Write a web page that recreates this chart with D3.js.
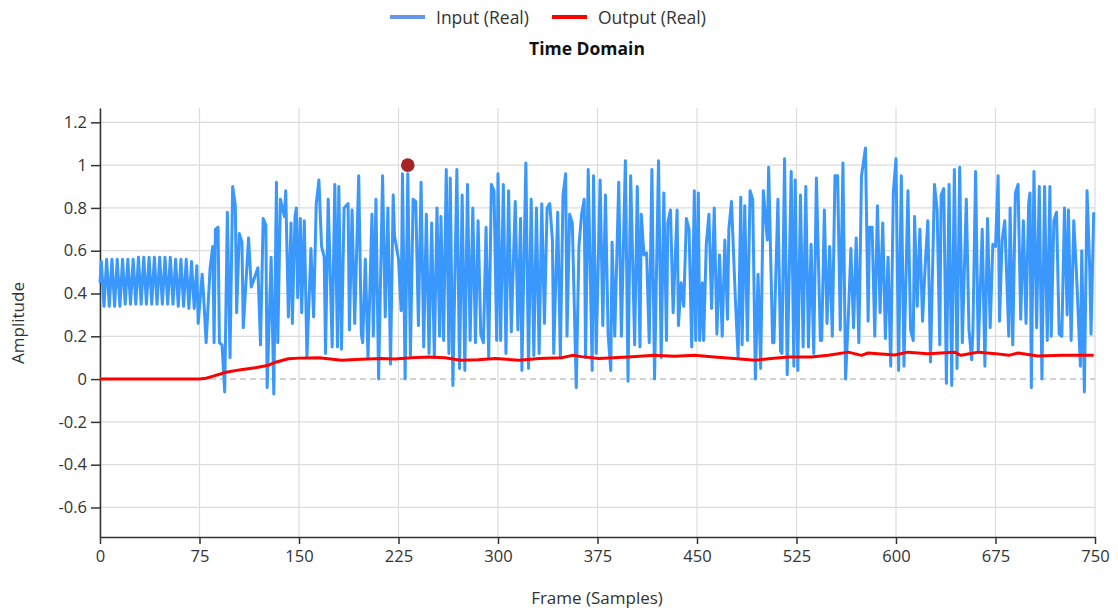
<!DOCTYPE html>
<html>
<head>
<meta charset="utf-8">
<script src="https://cdn.jsdelivr.net/npm/d3@7/dist/d3.min.js"></script>
<style>
body { margin: 0; background: #fff; }
text { font-family: "Open Sans", sans-serif; }
</style>
</head>
<body>
<svg id="chart" width="1118" height="610"></svg>
<script>
var xTicks = [0, 75, 150, 225, 300, 375, 450, 525, 600, 675, 750];
var yTicks = [-0.6, -0.4, -0.2, 0, 0.2, 0.4, 0.6, 0.8, 1, 1.2];
var seriesNames = ["Input (Real)", "Output (Real)"];

// [frame, amplitude] vertices
var inputSeries = [
  [0,0.45],[1,0.55],[3,0.34],[5,0.56],[7,0.34],[9,0.56],[11,0.34],[13,0.56],[15,0.34],[17,0.56],[19,0.35],[21,0.56],
  [23,0.35],[25,0.56],[27,0.35],[29,0.57],[31,0.35],[33,0.57],[35,0.35],[37,0.57],[39,0.35],[41,0.57],[43,0.35],[45,0.57],
  [47,0.35],[49,0.57],[51,0.35],[53,0.57],[55,0.35],[57,0.56],[59,0.34],[61,0.56],[63,0.34],[65,0.56],[67,0.33],[69,0.55],[71,0.33],
  [73,0.53],[74,0.26],[77,0.49],[78,0.40],[80,0.17],[83,0.52],[85,0.62],[86,0.17],[87,0.70],[89,0.71],[90,0.17],[92,0.16],
  [94,-0.06],[96,0.78],[98,0.10],[100,0.90],[102,0.81],[103,0.31],[105,0.68],[107,0.64],[108,0.24],[112,0.66],[114,0.43],
  [119,0.52],[121,0.16],[123,0.75],[125,0.72],[126,-0.04],[129,0.57],[131,-0.07],[133,0.92],[134,0.17],[136,0.84],[139,0.76],
  [140,0.88],[142,0.29],[144,0.73],[145,0.26],[147,0.76],
  [148,0.80],[149,0.38],[151,0.75],[152,0.31],[154,0.74],[156,0.10],[159,0.61],[161,0.29],[163,0.82],[165,0.93],[167,0.62],
  [169,0.57],[170,0.12],[172,0.84],[175,0.15],[177,0.91],[179,0.15],[180,0.90],[182,0.14],[184,0.80],[187,0.82],[188,0.23],
  [190,0.79],[192,0.26],[195,0.95],[197,0.21],[198,0.17],[200,0.56],[202,0.10],[205,0.77],[206,0.20],[208,0.84],[210,0.00],
  [213,0.95],[215,0.29],[217,0.80],[219,0.07],[221,0.86],[222,0.67],[225,0.56],[227,0.32],[228,0.96],[230,0.00],[232,0.96],
  [234,0.11],[236,0.84],[238,0.83],[240,0.25],[242,0.92],[244,0.15],[246,0.77],[248,0.12],[250,0.73],[252,0.10],[254,0.80],
  [256,0.20],[257,0.76],[259,0.18],[261,0.98],[263,0.12],[264,0.94],[266,-0.03],[269,0.98],[271,0.05],[273,0.86],[275,0.04],
  [277,0.91],[279,0.18],[281,0.80],[283,0.17],[285,0.74],[287,0.21],[289,0.17],[291,0.71],[293,0.10],[295,0.91],[297,0.88],[299,0.18],
  [300,0.96],[302,0.18],[304,0.91],[306,0.12],[308,0.88],[310,0.22],[313,0.83],[315,0.23],[317,0.75],[318,0.04],[321,1.01],
  [323,0.05],[325,0.84],[327,0.11],[329,0.80],[331,0.12],[333,0.82],[335,0.26],[337,0.80],[339,0.82],[341,0.65],[342,0.12],
  [345,0.78],[347,0.10],[349,0.86],[351,0.96],[352,0.20],[354,0.77],[356,0.73],[359,-0.04],[361,0.62],[363,0.77],[365,0.84],
  [366,0.10],[368,0.98],[371,0.04],[372,0.95],[374,0.12],[377,0.93],[379,0.25],[381,0.86],[383,0.21],[385,0.04],[386,0.64],
  [388,0.20],[391,0.92],[393,0.20],[396,1.02],[398,-0.01],[400,0.95],[403,0.16],[405,0.90],[407,0.15],[408,0.77],[410,0.58],
  [412,0.59],[414,0.17],[416,0.98],[418,0.00],[421,1.02],[423,0.10],[425,0.87],[427,0.18],[428,0.73],[430,0.79],[432,0.31],
  [435,0.79],[436,0.25],[438,0.45],[440,0.34],[442,0.75],[444,0.70],[446,0.15],[448,0.88],[449,0.18],
  [451,0.87],[452,0.18],[454,0.45],[455,0.18],[457,0.63],[459,0.77],[461,0.33],[463,0.80],[465,0.21],[467,0.58],[469,0.20],
  [471,0.65],[473,0.28],[474,0.70],[476,0.83],[479,0.36],[481,0.10],[483,0.85],[484,0.16],[486,0.81],[488,0.18],[490,0.88],
  [492,0.84],[494,0.00],[496,0.49],[498,0.05],[500,0.88],[503,0.65],[504,0.99],[507,0.17],[508,0.17],[511,0.84],[513,0.13],
  [514,0.12],[516,1.03],[518,0.02],[521,0.97],[523,0.06],[524,0.93],[526,0.04],[528,0.86],[530,0.15],[532,0.90],[534,0.15],
  [536,0.63],[538,0.12],[540,0.94],[543,0.18],[544,0.18],[546,0.79],[548,0.26],[550,0.62],[552,0.20],[554,0.95],[556,0.95],
  [558,0.23],[560,1.01],[562,0.00],[564,0.28],[566,0.61],[568,0.24],[570,0.66],[572,0.17],[574,0.95],[577,1.08],[579,0.27],
  [580,0.71],[582,0.71],[584,0.20],[586,0.81],[588,0.31],[590,0.73],[592,0.19],[594,0.57],[596,0.06],[598,0.87],[600,1.03],
  [602,0.04],[604,0.95],[606,0.06],[609,0.88],[611,0.23],[613,0.18],[614,0.76],[616,0.34],[618,0.70],[620,0.27],[622,0.53],
  [624,0.74],[626,0.08],[629,0.91],[631,0.79],[633,0.16],[634,0.86],[636,0.89],[638,-0.02],[640,0.91],[642,-0.03],[644,0.98],
  [646,0.05],[648,0.99],[650,0.17],[653,0.84],[655,0.23],[657,0.09],[658,0.23],[660,0.97],[662,0.13],[665,0.70],[667,0.06],
  [669,0.75],[671,0.24],[673,0.63],[675,0.62],[677,0.95],[678,0.27],[680,0.65],[682,0.74],[685,0.20],[686,0.80],[688,0.16],
  [690,0.87],[692,0.91],[694,0.28],[696,0.74],[698,0.26],[700,0.82],[701,0.87],[702,-0.04],[704,0.97],[706,0.24],[708,0.90],
  [710,0.00],[712,0.90],[714,0.18],[716,0.90],[717,0.20],[719,0.74],[721,0.78],[723,0.21],[725,0.20],[727,0.80],[729,0.30],
  [730,0.79],[732,0.18],[734,0.74],[736,0.50],[739,0.06],[740,0.60],[742,-0.06],[744,0.88],[746,0.52],[747,0.21],[748,0.49],[749,0.78]
];

var outputSeries = [
  [0,0],[75,0],[80,0.004],[86,0.015],[95,0.032],[105,0.043],[117,0.053],[127,0.065],[133,0.08],[142,0.095],[150,0.098],
  [165,0.10],[182,0.088],[197,0.093],[212,0.096],[222,0.094],[235,0.10],[248,0.103],[260,0.10],[272,0.088],[285,0.09],
  [298,0.096],[316,0.088],[331,0.096],[348,0.10],[356,0.111],[363,0.105],[376,0.096],[398,0.103],[418,0.111],[433,0.107],
  [448,0.111],[463,0.103],[478,0.096],[494,0.088],[506,0.096],[519,0.103],[536,0.103],[549,0.111],[564,0.126],[574,0.111],
  [579,0.122],[589,0.117],[599,0.113],[609,0.126],[624,0.119],[644,0.126],[649,0.111],[662,0.126],[675,0.119],[685,0.111],
  [692,0.122],[707,0.108],[725,0.111],[749,0.111]
];

var markerFrame = 232;
var markerValue = 1.0;

var svg = d3.select("#chart");
var x = d3.scaleLinear().domain([0, 750]).range([100, 1095]);
var y = d3.scaleLinear().domain([-0.738, 1.267]).range([537, 108]);

// grid
svg.append("g").selectAll("line").data(xTicks).enter().append("line")
  .attr("x1", function(d) { return x(d); })
  .attr("x2", function(d) { return x(d); })
  .attr("y1", y.range()[0]).attr("y2", y.range()[1])
  .attr("stroke", "#dcdcdc").attr("stroke-width", 1.2);

svg.append("g").selectAll("line").data(yTicks.filter(function(d) { return d !== 0; })).enter().append("line")
  .attr("x1", x.range()[0]).attr("x2", x.range()[1])
  .attr("y1", function(d) { return y(d); })
  .attr("y2", function(d) { return y(d); })
  .attr("stroke", "#dcdcdc").attr("stroke-width", 1.2);

svg.append("line")
  .attr("x1", x.range()[0]).attr("x2", x.range()[1])
  .attr("y1", y(0)).attr("y2", y(0))
  .attr("stroke", "#c4c4c4").attr("stroke-width", 1.5)
  .attr("stroke-dasharray", "6,4");

// axes
var yAxis = svg.append("g")
  .attr("transform", "translate(" + x.range()[0] + ",0)")
  .call(d3.axisLeft(y).tickValues(yTicks).tickSize(9).tickSizeOuter(0).tickPadding(4)
    .tickFormat(function(d) { return String(d); }));

var xAxis = svg.append("g")
  .attr("transform", "translate(0," + y.range()[0] + ")")
  .call(d3.axisBottom(x).tickValues(xTicks).tickSize(7).tickSizeOuter(0).tickPadding(6));

[yAxis, xAxis].forEach(function(a) {
  a.select(".domain").attr("stroke", "#333").attr("stroke-width", 1.5);
  a.selectAll(".tick line").attr("stroke", "#333").attr("stroke-width", 1.5);
  a.selectAll(".tick text").attr("fill", "#333").style("font-size", "16.5px").style("font-family", "Open Sans, sans-serif");
});

// lines
var line = d3.line()
  .x(function(d) { return x(d[0]); })
  .y(function(d) { return y(d[1]); });

svg.append("path")
  .datum(inputSeries)
  .attr("d", line)
  .attr("fill", "none")
  .attr("stroke", "#3a98fc")
  .attr("stroke-width", 3)
  .attr("stroke-linejoin", "round");

svg.append("path")
  .datum(outputSeries)
  .attr("d", line)
  .attr("fill", "none")
  .attr("stroke", "#ff0000")
  .attr("stroke-width", 3)
  .attr("stroke-linejoin", "round");

svg.append("circle")
  .attr("cx", x(markerFrame))
  .attr("cy", y(markerValue))
  .attr("r", 6.8)
  .attr("fill", "#a52424");

// legend
var legendX = [390, 552];
var legendColors = ["#6495ed", "#ff0000"];
seriesNames.forEach(function(name, i) {
  svg.append("line")
    .attr("x1", legendX[i]).attr("x2", legendX[i] + 35)
    .attr("y1", 17).attr("y2", 17)
    .attr("stroke", legendColors[i]).attr("stroke-width", 4);
  svg.append("text")
    .attr("x", legendX[i] + 46).attr("y", 24)
    .attr("fill", "#333").style("font-size", "17.5px")
    .text(name);
});

svg.append("text")
  .attr("x", 587).attr("y", 55)
  .attr("text-anchor", "middle")
  .attr("fill", "#111").style("font-size", "17.5px").style("font-weight", "bold")
  .text("Time Domain");

svg.append("text")
  .attr("x", 597).attr("y", 604)
  .attr("text-anchor", "middle")
  .attr("fill", "#333").style("font-size", "17px")
  .text("Frame (Samples)");

svg.append("text")
  .attr("transform", "translate(24,323) rotate(-90)")
  .attr("text-anchor", "middle")
  .attr("fill", "#333").style("font-size", "17px")
  .text("Amplitude");
</script>
</body>
</html>
